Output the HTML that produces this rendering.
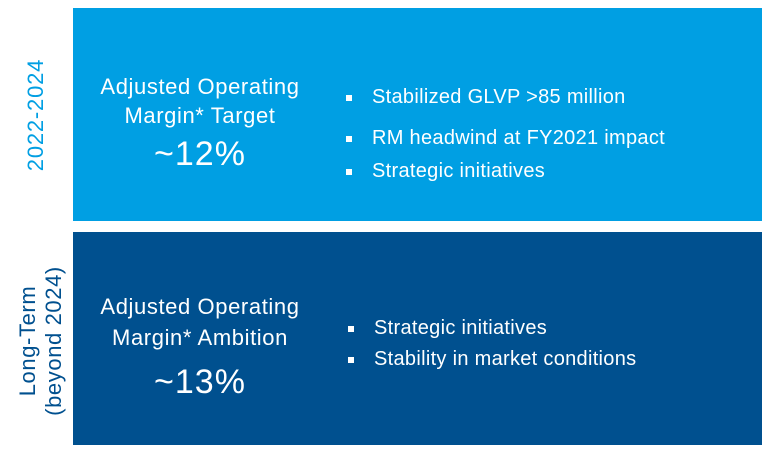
<!DOCTYPE html>
<html><head><style>
body{margin:0;width:770px;height:453px;background:#fff;position:relative;font-family:"Liberation Sans",sans-serif;overflow:hidden}
.box{position:absolute;left:73px;width:689px;height:213px}
.t{position:absolute;color:#fff;white-space:nowrap}
.c{text-align:center;width:300px;left:-23px}
.b{font-size:20px;left:299px;letter-spacing:0.3px}
.b:before{content:"";position:absolute;left:-26px;top:9px;width:6px;height:6px;background:#fff}
.rot{position:absolute;transform:rotate(-90deg);transform-origin:center;white-space:nowrap;text-align:center}
</style></head><body>
<div class="box" style="top:8px;background:#009FE3">
<div class="t c" style="top:64px;font-size:22px;line-height:29px;letter-spacing:0.6px">Adjusted Operating<br>Margin* Target</div>
<div class="t c" style="top:127px;font-size:34px;letter-spacing:1px">~12%</div>
<div class="t b" style="top:78px">Stabilized GLVP &gt;85 million</div>
<div class="t b" style="top:119px">RM headwind at FY2021 impact</div>
<div class="t b" style="top:152px">Strategic initiatives</div>
</div>
<div class="box" style="top:232px;background:#00508F">
<div class="t c" style="top:59px;font-size:22px;line-height:31px;letter-spacing:0.6px">Adjusted Operating<br>Margin* Ambition</div>
<div class="t c" style="top:131px;font-size:34px;letter-spacing:1px">~13%</div>
<div class="t b" style="left:301px;top:85px">Strategic initiatives</div>
<div class="t b" style="left:301px;top:116px">Stability in market conditions</div>
</div>
<div class="rot" style="left:-24px;top:103px;width:120px;font-size:22px;color:#009FE3;line-height:24px;letter-spacing:0.8px">2022-2024</div>
<div class="rot" style="left:-44px;top:315px;width:170px;font-size:22px;color:#00508F;line-height:26px;letter-spacing:0.6px">Long-Term<br>(beyond 2024)</div>
</body></html>
